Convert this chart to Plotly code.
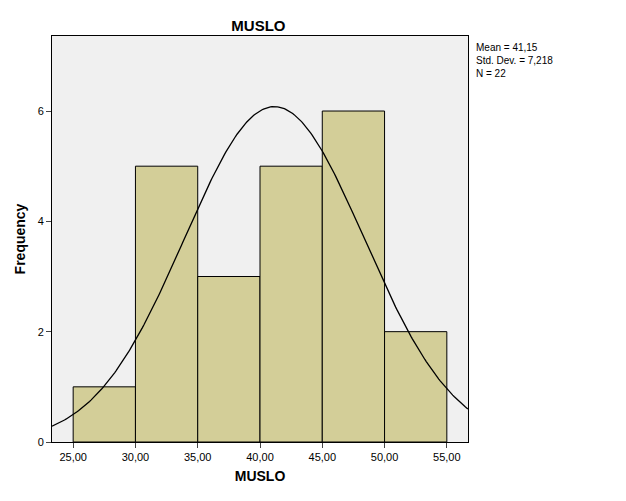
import numpy as np
import plotly.graph_objects as go

bin_starts = [25, 30, 35, 40, 45, 50]
counts = [1, 5, 3, 5, 6, 2]
bin_width = 5
mean, sd, n = 41.15, 7.218, 22
x_ticks = [25, 30, 35, 40, 45, 50, 55]
x_tick_labels = ["25,00", "30,00", "35,00", "40,00", "45,00", "50,00", "55,00"]

xs = np.linspace(23.3, 56.7, 300)
ys = n * bin_width / (sd * np.sqrt(2 * np.pi)) * np.exp(-0.5 * ((xs - mean) / sd) ** 2)

fig = go.Figure()
fig.add_bar(x=[s + bin_width / 2 for s in bin_starts], y=counts, width=bin_width,
            marker=dict(color="#d3ce98", line=dict(color="black", width=1)))
fig.add_scatter(x=xs, y=ys, mode="lines", line=dict(color="black", width=1.3))
fig.update_layout(
    width=626, height=501, showlegend=False,
    margin=dict(l=44, r=166, t=28, b=67, autoexpand=False),
    paper_bgcolor="white", plot_bgcolor="#f0f0f0",
    font=dict(family="Liberation Sans, Arial", color="black", size=11),
    title=dict(text="<b>MUSLO</b>", x=0.4, xanchor="center", y=0.975, yanchor="top", font=dict(size=15)),
    annotations=[dict(text="Mean = 41,15<br>Std. Dev. = 7,218<br>N = 22", xref="paper", yref="paper",
                      x=1.015, y=0.99, xanchor="left", yanchor="top", showarrow=False, align="left",
                      font=dict(size=10))],
)
fig.update_xaxes(range=[23.3, 56.7], tickvals=x_ticks, ticktext=x_tick_labels, ticks="outside",
                 ticklen=5, showgrid=False, zeroline=False, showline=True, linecolor="black", mirror=True,
                 title=dict(text="<b>MUSLO</b>", font=dict(size=14), standoff=8))
fig.update_yaxes(range=[0, 7.36], tickvals=[0, 2, 4, 6], ticks="outside", ticklen=5, showgrid=False,
                 zeroline=False, showline=True, linecolor="black", mirror=True,
                 title=dict(text="<b>Frequency</b>", font=dict(size=14), standoff=8))
fig.write_html("out.html")
